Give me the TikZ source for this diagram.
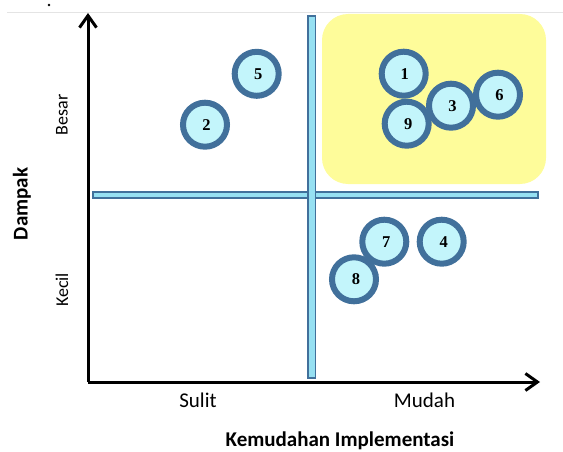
\documentclass[tikz,border=0pt]{standalone}
\usepackage{fontspec}
\setmainfont{Carlito}
\newfontfamily\numfont{Liberation Serif}
\usetikzlibrary{arrows.meta}
\definecolor{cborder}{HTML}{41709B}
\definecolor{cfill}{HTML}{C3F5FB}
\definecolor{barfill}{HTML}{96E0F2}
\definecolor{hilite}{HTML}{FEFC9A}
\definecolor{rulegray}{HTML}{E4E4E4}
\tikzset{
  num/.style={circle, draw=cborder, line width=6pt, fill=cfill, minimum size=44pt, inner sep=0pt,
    font=\numfont\bfseries\fontsize{16.5}{16.5}\selectfont, text=black},
  bar/.style={draw=cborder, line width=1.5pt, fill=barfill},
  axis/.style={line width=3pt, -{Straight Barb[length=12pt,width=17pt,line width=3pt]}},
  lbl/.style={font=\fontsize{21}{21}\selectfont, inner sep=0pt},
  side/.style={font=\fontsize{18}{18}\selectfont, inner sep=0pt, rotate=90},
  title/.style={font=\bfseries\fontsize{21}{21}\selectfont, inner sep=0pt}
}
\begin{document}
\begin{tikzpicture}[x=1pt,y=-1pt]
\useasboundingbox (0,0) rectangle (563,452);
% top rule and dot
\draw[rulegray, line width=0.8pt] (7,12) -- (563,12);
\fill (49,5) circle (1.3pt);
% highlight region
\fill[hilite, rounded corners=26pt] (322,14) rectangle (546,184);
% quadrant bars
\draw[bar] (93,192) rectangle (538,198);
\draw[bar] (308,16) rectangle (315.5,378);
% axes
\coordinate (o) at (88,382);
\coordinate (ytip) at (88,13);
\coordinate (xtip) at (540,382);
\draw[axis] (o) -- (ytip);
\draw[axis] (o) -- (xtip);
% circles
\node[num] (c5) at (256.7,73.8) {\hspace{3pt}5};
\node[num] (c2) at (205,124.7) {\hspace{3pt}2};
\node[num] (c1) at (403.7,73.7) {\hspace{2pt}1};
\node[num] (c6) at (498,94.7) {\hspace{3pt}6};
\node[num] (c3) at (451,105.7) {\hspace{3pt}3};
\node[num] (c9) at (406.7,123.7) {\hspace{3pt}9};
\node[num] (c7) at (384.3,241.7) {\hspace{4pt}7};
\node[num] (c4) at (441.7,241.7) {\hspace{4pt}4};
\node[num] (c8) at (354,279.3) {\hspace{4pt}8};
% labels
\node[side] (besar) at (62,115) {Besar};
\node[side] (kecil) at (62,290) {Kecil};
\node[side, font=\bfseries\fontsize{21}{21}\selectfont] (dampak) at (22,204) {Dampak};
\node[lbl] (sulit) at (198,400) {Sulit};
\node[lbl] (mudah) at (424.5,400) {Mudah};
\node[title, anchor=base] (xtitle) at (340,446) {Kemudahan Implementasi};
\end{tikzpicture}
\end{document}
